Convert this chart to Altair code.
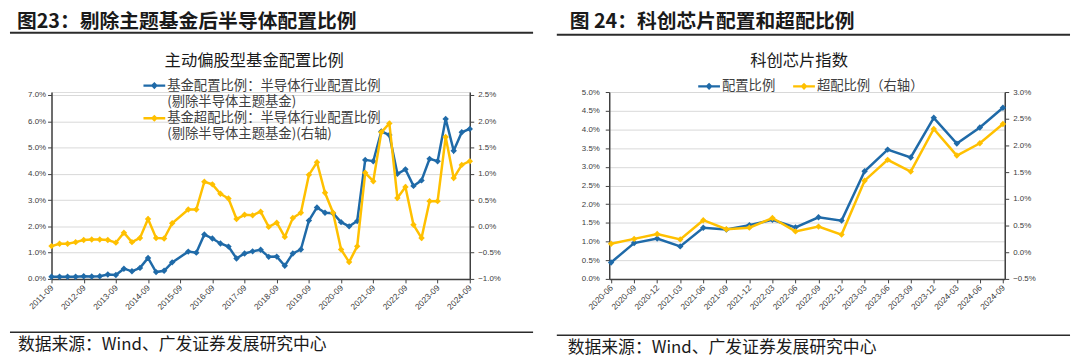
import altair as alt
import pandas as pd

# ---------------- 图23 data (quarterly, % values) ----------------
left_quarters = [
    "2011-09", "2011-12",
    "2012-03", "2012-06", "2012-09", "2012-12",
    "2013-03", "2013-06", "2013-09", "2013-12",
    "2014-03", "2014-06", "2014-09", "2014-12",
    "2015-03", "2015-06", "2015-12",
    "2016-03", "2016-06", "2016-09", "2016-12",
    "2017-03", "2017-06", "2017-09", "2017-12",
    "2018-03", "2018-06", "2018-09", "2018-12",
    "2019-03", "2019-06", "2019-09", "2019-12",
    "2020-03", "2020-06", "2020-09", "2020-12",
    "2021-03", "2021-06", "2021-09", "2021-12",
    "2022-03", "2022-06", "2022-09", "2022-12",
    "2023-03", "2023-06", "2023-09", "2023-12",
    "2024-03", "2024-06", "2024-09",
]
left_alloc = [
    0.08, 0.08,
    0.08, 0.08, 0.10, 0.09,
    0.10, 0.17, 0.15, 0.39,
    0.29, 0.42, 0.80, 0.26,
    0.31, 0.63, 1.04,
    1.00, 1.69, 1.54, 1.35,
    1.23, 0.78, 0.97, 1.05,
    1.11, 0.84, 0.85, 0.50,
    0.97, 1.12, 2.22, 2.72,
    2.52, 2.50, 2.16, 2.00,
    2.20, 4.53, 4.48, 5.61,
    5.48, 4.00, 4.17, 3.54,
    3.75, 4.57, 4.48, 6.09,
    4.88, 5.58, 5.71,
]
left_over = [
    -0.375, -0.33,
    -0.33, -0.30, -0.26, -0.25,
    -0.25, -0.26, -0.31, -0.12,
    -0.30, -0.22, 0.14, -0.22,
    -0.23, 0.06, 0.32,
    0.32, 0.85, 0.80, 0.62,
    0.53, 0.14, 0.22, 0.21,
    0.28, -0.01, 0.07, -0.20,
    0.16, 0.26, 0.98, 1.22,
    0.64, 0.26, -0.44, -0.68,
    -0.38, 1.02, 0.86, 1.79,
    1.96, 0.54, 0.75, 0.03,
    -0.22, 0.48, 0.48, 1.70,
    0.92, 1.17, 1.24,
]
left_tick_labels = ["2011-09", "2012-09", "2013-09", "2014-09", "2015-09", "2016-09", "2017-09",
                    "2018-09", "2019-09", "2020-09", "2021-09", "2022-09", "2023-09", "2024-09"]
left_y_ticks = [0, 1, 2, 3, 4, 5, 6, 7]
left_y2_ticks = [-1.0, -0.5, 0.0, 0.5, 1.0, 1.5, 2.0, 2.5]
left_series = ["基金配置比例：半导体行业配置比例", "基金超配比例：半导体行业配置比例"]
left_series_notes = ["(剔除半导体主题基金)", "(剔除半导体主题基金)(右轴)"]

# ---------------- 图24 data ----------------
right_quarters = ["2020-06", "2020-09", "2020-12", "2021-03", "2021-06", "2021-09", "2021-12",
                  "2022-03", "2022-06", "2022-09", "2022-12", "2023-03", "2023-06", "2023-09",
                  "2023-12", "2024-03", "2024-06", "2024-09"]
right_alloc = [0.44, 0.96, 1.08, 0.87, 1.37, 1.32, 1.44, 1.58, 1.38, 1.65, 1.56, 2.88, 3.46,
               3.25, 4.31, 3.62, 4.05, 4.58]
right_over = [0.16, 0.25, 0.34, 0.24, 0.60, 0.43, 0.46, 0.64, 0.39, 0.48, 0.33, 1.34, 1.73,
              1.51, 2.31, 1.81, 2.04, 2.40]
right_y_ticks = [0, 0.5, 1.0, 1.5, 2.0, 2.5, 3.0, 3.5, 4.0, 4.5, 5.0]
right_y2_ticks = [-0.5, 0.0, 0.5, 1.0, 1.5, 2.0, 2.5, 3.0]
right_series = ["配置比例", "超配比例（右轴）"]

# ---------------- styles ----------------
CJK = "Noto Sans CJK SC"
LAT = "Liberation Sans"
BLUE = "#1f6aa8"
GOLD = "#ffc000"
AXC = "#404040"
SYM = "M-1,-0.11L1,-0.11L1,0.11L-1,0.11Z M-0.33,0L0,-0.33L0.33,0L0,0.33Z"
H = 189


def deco_text(text, x, y, size, weight="normal", align="left", color="#1a1a1a"):
    return alt.Chart(pd.DataFrame({"t": [text]})).mark_text(
        align=align, baseline="middle", fontSize=size, fontWeight=weight, font=CJK, color=color
    ).encode(x=alt.value(x), y=alt.value(y), text="t:N")


def deco_rule(x1, x2, y, w):
    return alt.Chart(pd.DataFrame({"a": [0]})).mark_rule(color="#2b2b2b", strokeWidth=w).encode(
        x=alt.value(x1), x2=alt.value(x2), y=alt.value(y))


def yaxis(vals, orient, grid, pad):
    return alt.Axis(values=vals, orient=orient, grid=grid, title=None,
                    labelExpr="format(datum.value, '.1f') + '%'",
                    labelFont=LAT, labelFontSize=8, labelColor=AXC, labelPadding=pad,
                    domainColor=AXC, domainWidth=1.5, tickColor=AXC, tickSize=4,
                    gridColor="#d9d9d9", gridWidth=1)


def series_layers(base, x, yfield, ydomain, axis, color, name, cscale, legend):
    y = alt.Y(f"{yfield}:Q", scale=alt.Scale(domain=ydomain, nice=False, zero=False), axis=axis)
    line = base.mark_line(color=color, strokeWidth=2.5).encode(x=x, y=y)
    pts = base.transform_calculate(series=f"'{name}'").mark_point(
        filled=True, shape="diamond", size=42, opacity=1
    ).encode(x=x, y=y, color=alt.Color("series:N", scale=cscale, legend=legend))
    return alt.layer(line, pts)


# ---------------- left panel ----------------
ldf = pd.DataFrame({"q": left_quarters, "alloc": left_alloc, "over": left_over})
ldf["xq"] = [int(s[:4]) + int(s[5:7]) / 12 for s in left_quarters]
lbase = alt.Chart(ldf)
lticks = [int(s[:4]) + int(s[5:7]) / 12 for s in left_tick_labels]
lx = alt.X("xq:Q", scale=alt.Scale(domain=[lticks[0], lticks[-1]], nice=False, zero=False),
           axis=alt.Axis(values=lticks, labelExpr="floor(datum.value) + '-09'", title=None, grid=False,
                         labelAngle=315, labelAlign="right", labelBaseline="middle",
                         labelFont=LAT, labelFontSize=8.5, labelColor=AXC, labelPadding=3,
                         domainColor=AXC, domainWidth=1.5, tickColor=AXC, tickSize=4))
lcscale = alt.Scale(domain=left_series, range=[BLUE, GOLD])
lleg = alt.Legend(orient="none", legendX=93, legendY=-17.5, direction="vertical", title=None,
                  symbolType=SYM, symbolSize=484, symbolStrokeWidth=0,
                  labelFont=CJK, labelFontSize=13.5,
                  labelColor=AXC, labelLimit=400, labelOffset=2, padding=0, rowPadding=15)
l_blue = series_layers(lbase, lx, "alloc", [0, 7 * H / 186], yaxis(left_y_ticks, "left", True, 2),
                       BLUE, left_series[0], lcscale, lleg)
l_gold = series_layers(lbase, lx, "over", [-1, -1 + 3.5 * H / 186], yaxis(left_y2_ticks, "right", False, 4),
                       GOLD, left_series[1], lcscale, lleg)
left = alt.layer(
    l_blue, l_gold,
    deco_text(left_series_notes[0], 117, 10.5, 13.5, color=AXC),
    deco_text(left_series_notes[1], 117, 42.5, 13.5, color=AXC),
    deco_text("图23：剔除主题基金后半导体配置比例", -35, -71, 20, "bold"),
    deco_rule(-42, 487, -60, 2),
    deco_text("主动偏股型基金配置比例", 205, -31, 16.5, align="center"),
    deco_rule(-42, 487, 243, 1.5),
    deco_text("数据来源：Wind、广发证券发展研究中心", -34, 256, 17),
).resolve_scale(y="independent").properties(width=423, height=H)

# ---------------- right panel ----------------
rdf = pd.DataFrame({"q": right_quarters, "alloc": right_alloc, "over": right_over})
rbase = alt.Chart(rdf)
rx = alt.X("q:O", sort=right_quarters, scale=alt.Scale(padding=0.08),
           axis=alt.Axis(title=None, grid=False, labelAngle=315, labelAlign="right", labelBaseline="middle",
                         labelFont=LAT, labelFontSize=8.5, labelColor=AXC, labelPadding=3,
                         domainColor=AXC, domainWidth=1.5, tickColor=AXC, tickSize=4))
rcscale = alt.Scale(domain=right_series, range=[BLUE, GOLD])
rleg = alt.Legend(orient="none", legendX=90, legendY=-17, direction="horizontal", title=None,
                  symbolType=SYM, symbolSize=484, symbolStrokeWidth=0,
                  labelFont=CJK, labelFontSize=13.5, labelColor=AXC, labelLimit=400,
                  labelOffset=2, padding=0, columnPadding=18)
r_blue = series_layers(rbase, rx, "alloc", [0, 5], yaxis(right_y_ticks, "left", True, 6),
                       BLUE, right_series[0], rcscale, rleg)
r_gold = series_layers(rbase, rx, "over", [-0.5, 3.0], yaxis(right_y2_ticks, "right", False, 4),
                       GOLD, right_series[1], rcscale, rleg)
right = alt.layer(
    r_blue, r_gold,
    deco_text("图 24：科创芯片配置和超配比例", -40, -71, 20, "bold"),
    deco_rule(-53, 466, -58, 2),
    deco_text("科创芯片指数", 192, -31, 16.5, align="center"),
    deco_rule(-53, 466, 246, 1.5),
    deco_text("数据来源：Wind、广发证券发展研究中心", -42, 259, 17),
).resolve_scale(y="independent").properties(width=400, height=H)

chart = alt.hconcat(left, right, spacing=20).resolve_scale(color="independent").properties(
    padding={"top": 1, "left": 0, "right": 0, "bottom": 0}
).configure_view(stroke=None).configure(background="white")

chart.save("out.html", embed_options={"renderer": "svg", "actions": False})
